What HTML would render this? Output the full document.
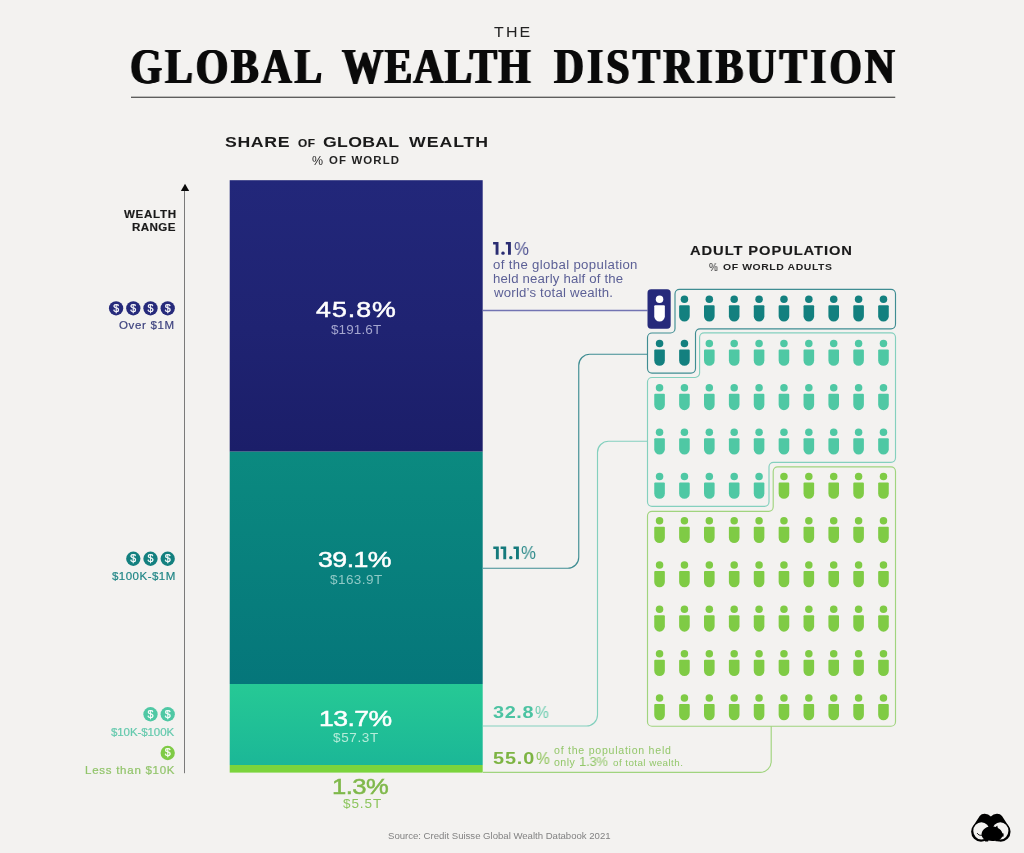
<!DOCTYPE html>
<html><head><meta charset="utf-8"><title>The Global Wealth Distribution</title>
<style>
html,body{margin:0;padding:0;}
body{width:1024px;height:853px;background:#f3f2f0;position:relative;overflow:hidden;font-family:"Liberation Sans",sans-serif;}
.t{position:absolute;white-space:nowrap;line-height:1;transform-origin:0 0;will-change:transform;}
svg{position:absolute;left:0;top:0;will-change:transform;}
</style></head><body>
<svg width="1024" height="853" viewBox="0 0 1024 853">
<defs>
<linearGradient id="gn" x1="0" y1="0" x2="0" y2="1"><stop offset="0" stop-color="#22277a"/><stop offset="0.55" stop-color="#1f2372"/><stop offset="1" stop-color="#1b1e69"/></linearGradient>
<linearGradient id="gt" x1="0" y1="0" x2="0" y2="1"><stop offset="0" stop-color="#0b8a80"/><stop offset="1" stop-color="#05767a"/></linearGradient>
<linearGradient id="gm" x1="0" y1="0" x2="0" y2="1"><stop offset="0" stop-color="#26c995"/><stop offset="1" stop-color="#1bb797"/></linearGradient>
</defs>
<rect x="131" y="96.7" width="764.25" height="1.1" fill="#3a3a3a"/>
<rect x="184" y="188" width="1" height="585.2" fill="#7a7a7a"/>
<path d="M185 183.800l4.200 7.100h-8.300z" fill="#0a0a0a"/>
<rect x="229.7" y="180.2" width="253" height="271.5" fill="url(#gn)"/>
<rect x="229.7" y="451.7" width="253" height="232.3" fill="url(#gt)"/>
<rect x="229.7" y="684" width="253" height="81" fill="url(#gm)"/>
<rect x="229.7" y="765" width="253" height="7.6" fill="#7bd43c"/>
<circle cx="116.1" cy="308.3" r="7.15" fill="#262a7b"/>
<text x="116.1" y="311.70" text-anchor="middle" font-family="Liberation Sans, sans-serif" font-size="10.6" fill="#fff" stroke="#fff" stroke-width="0.25">$</text>
<circle cx="133.3" cy="308.3" r="7.15" fill="#262a7b"/>
<text x="133.3" y="311.70" text-anchor="middle" font-family="Liberation Sans, sans-serif" font-size="10.6" fill="#fff" stroke="#fff" stroke-width="0.25">$</text>
<circle cx="150.5" cy="308.3" r="7.15" fill="#262a7b"/>
<text x="150.5" y="311.70" text-anchor="middle" font-family="Liberation Sans, sans-serif" font-size="10.6" fill="#fff" stroke="#fff" stroke-width="0.25">$</text>
<circle cx="167.7" cy="308.3" r="7.15" fill="#262a7b"/>
<text x="167.7" y="311.70" text-anchor="middle" font-family="Liberation Sans, sans-serif" font-size="10.6" fill="#fff" stroke="#fff" stroke-width="0.25">$</text>
<circle cx="133.3" cy="558.75" r="7.15" fill="#13807f"/>
<text x="133.3" y="562.15" text-anchor="middle" font-family="Liberation Sans, sans-serif" font-size="10.6" fill="#fff" stroke="#fff" stroke-width="0.25">$</text>
<circle cx="150.5" cy="558.75" r="7.15" fill="#13807f"/>
<text x="150.5" y="562.15" text-anchor="middle" font-family="Liberation Sans, sans-serif" font-size="10.6" fill="#fff" stroke="#fff" stroke-width="0.25">$</text>
<circle cx="167.7" cy="558.75" r="7.15" fill="#13807f"/>
<text x="167.7" y="562.15" text-anchor="middle" font-family="Liberation Sans, sans-serif" font-size="10.6" fill="#fff" stroke="#fff" stroke-width="0.25">$</text>
<circle cx="150.5" cy="714.25" r="7.15" fill="#4fc8a4"/>
<text x="150.5" y="717.65" text-anchor="middle" font-family="Liberation Sans, sans-serif" font-size="10.6" fill="#fff" stroke="#fff" stroke-width="0.25">$</text>
<circle cx="167.7" cy="714.25" r="7.15" fill="#4fc8a4"/>
<text x="167.7" y="717.65" text-anchor="middle" font-family="Liberation Sans, sans-serif" font-size="10.6" fill="#fff" stroke="#fff" stroke-width="0.25">$</text>
<circle cx="167.7" cy="753" r="7.15" fill="#7fcb45"/>
<text x="167.7" y="756.40" text-anchor="middle" font-family="Liberation Sans, sans-serif" font-size="10.6" fill="#fff" stroke="#fff" stroke-width="0.25">$</text>
<path d="M483 310.5H647.5" fill="none" stroke="#7274b2" stroke-width="1.3"/>
<path d="M483 568.25H567.75a11 11 0 0 0 11 -11V365.25a11 11 0 0 1 11 -11H647.5" fill="none" stroke="#3f8d92" stroke-width="1.15"/>
<path d="M483 726H586.5a11 11 0 0 0 11 -11V452.25a11 11 0 0 1 11 -11H647.5" fill="none" stroke="#84d0be" stroke-width="1.15"/>
<path d="M483 772.4H760.2a11 11 0 0 0 11 -11V726.25" fill="none" stroke="#a0d47e" stroke-width="1.15"/>
<path d="M675.00 293.90A4.5 4.5 0 0 1 679.50 289.40L891.00 289.40A4.5 4.5 0 0 1 895.50 293.90L895.50 324.30A4.5 4.5 0 0 1 891.00 328.80L700.00 328.80A4.5 4.5 0 0 0 695.50 333.30L695.50 368.60A4.5 4.5 0 0 1 691.00 373.10L652.00 373.10A4.5 4.5 0 0 1 647.50 368.60L647.50 337.50A4.5 4.5 0 0 1 652.00 333.00L670.50 333.00A4.5 4.5 0 0 0 675.00 328.50Z" fill="none" stroke="#3f8d92" stroke-width="1.15"/>
<path d="M699.60 337.30A4.5 4.5 0 0 1 704.10 332.80L891.00 332.80A4.5 4.5 0 0 1 895.50 337.30L895.50 457.80A4.5 4.5 0 0 1 891.00 462.30L773.50 462.30A4.5 4.5 0 0 0 769.00 466.80L769.00 501.80A4.5 4.5 0 0 1 764.50 506.30L652.00 506.30A4.5 4.5 0 0 1 647.50 501.80L647.50 382.00A4.5 4.5 0 0 1 652.00 377.50L695.10 377.50A4.5 4.5 0 0 0 699.60 373.00Z" fill="none" stroke="#84d0be" stroke-width="1.15"/>
<path d="M773.20 471.40A4.5 4.5 0 0 1 777.70 466.90L891.00 466.90A4.5 4.5 0 0 1 895.50 471.40L895.50 721.75A4.5 4.5 0 0 1 891.00 726.25L652.00 726.25A4.5 4.5 0 0 1 647.50 721.75L647.50 515.80A4.5 4.5 0 0 1 652.00 511.30L768.70 511.30A4.5 4.5 0 0 0 773.20 506.80Z" fill="none" stroke="#a0d47e" stroke-width="1.15"/>
<rect x="647.5" y="289.3" width="23.2" height="39.4" rx="3.6" fill="#262a7b"/>
<g fill="#ffffff">
<circle cx="659.55" cy="299.25" r="3.75"/><path d="M655.25 305.25h8.6a1 1 0 0 1 1 1v10a5.3 5.3 0 0 1-10.6 0v-10a1 1 0 0 1 1-1z"/>
</g>
<g fill="#13807f">
<circle cx="684.43" cy="299.25" r="3.75"/><path d="M680.13 305.25h8.6a1 1 0 0 1 1 1v10a5.3 5.3 0 0 1-10.6 0v-10a1 1 0 0 1 1-1z"/>
<circle cx="709.31" cy="299.25" r="3.75"/><path d="M705.01 305.25h8.6a1 1 0 0 1 1 1v10a5.3 5.3 0 0 1-10.6 0v-10a1 1 0 0 1 1-1z"/>
<circle cx="734.19" cy="299.25" r="3.75"/><path d="M729.89 305.25h8.6a1 1 0 0 1 1 1v10a5.3 5.3 0 0 1-10.6 0v-10a1 1 0 0 1 1-1z"/>
<circle cx="759.07" cy="299.25" r="3.75"/><path d="M754.77 305.25h8.6a1 1 0 0 1 1 1v10a5.3 5.3 0 0 1-10.6 0v-10a1 1 0 0 1 1-1z"/>
<circle cx="783.95" cy="299.25" r="3.75"/><path d="M779.65 305.25h8.6a1 1 0 0 1 1 1v10a5.3 5.3 0 0 1-10.6 0v-10a1 1 0 0 1 1-1z"/>
<circle cx="808.83" cy="299.25" r="3.75"/><path d="M804.53 305.25h8.6a1 1 0 0 1 1 1v10a5.3 5.3 0 0 1-10.6 0v-10a1 1 0 0 1 1-1z"/>
<circle cx="833.71" cy="299.25" r="3.75"/><path d="M829.41 305.25h8.6a1 1 0 0 1 1 1v10a5.3 5.3 0 0 1-10.6 0v-10a1 1 0 0 1 1-1z"/>
<circle cx="858.59" cy="299.25" r="3.75"/><path d="M854.29 305.25h8.6a1 1 0 0 1 1 1v10a5.3 5.3 0 0 1-10.6 0v-10a1 1 0 0 1 1-1z"/>
<circle cx="883.47" cy="299.25" r="3.75"/><path d="M879.17 305.25h8.6a1 1 0 0 1 1 1v10a5.3 5.3 0 0 1-10.6 0v-10a1 1 0 0 1 1-1z"/>
<circle cx="659.55" cy="343.55" r="3.75"/><path d="M655.25 349.55h8.6a1 1 0 0 1 1 1v10a5.3 5.3 0 0 1-10.6 0v-10a1 1 0 0 1 1-1z"/>
<circle cx="684.43" cy="343.55" r="3.75"/><path d="M680.13 349.55h8.6a1 1 0 0 1 1 1v10a5.3 5.3 0 0 1-10.6 0v-10a1 1 0 0 1 1-1z"/>
</g>
<g fill="#4fc8a4">
<circle cx="709.31" cy="343.55" r="3.75"/><path d="M705.01 349.55h8.6a1 1 0 0 1 1 1v10a5.3 5.3 0 0 1-10.6 0v-10a1 1 0 0 1 1-1z"/>
<circle cx="734.19" cy="343.55" r="3.75"/><path d="M729.89 349.55h8.6a1 1 0 0 1 1 1v10a5.3 5.3 0 0 1-10.6 0v-10a1 1 0 0 1 1-1z"/>
<circle cx="759.07" cy="343.55" r="3.75"/><path d="M754.77 349.55h8.6a1 1 0 0 1 1 1v10a5.3 5.3 0 0 1-10.6 0v-10a1 1 0 0 1 1-1z"/>
<circle cx="783.95" cy="343.55" r="3.75"/><path d="M779.65 349.55h8.6a1 1 0 0 1 1 1v10a5.3 5.3 0 0 1-10.6 0v-10a1 1 0 0 1 1-1z"/>
<circle cx="808.83" cy="343.55" r="3.75"/><path d="M804.53 349.55h8.6a1 1 0 0 1 1 1v10a5.3 5.3 0 0 1-10.6 0v-10a1 1 0 0 1 1-1z"/>
<circle cx="833.71" cy="343.55" r="3.75"/><path d="M829.41 349.55h8.6a1 1 0 0 1 1 1v10a5.3 5.3 0 0 1-10.6 0v-10a1 1 0 0 1 1-1z"/>
<circle cx="858.59" cy="343.55" r="3.75"/><path d="M854.29 349.55h8.6a1 1 0 0 1 1 1v10a5.3 5.3 0 0 1-10.6 0v-10a1 1 0 0 1 1-1z"/>
<circle cx="883.47" cy="343.55" r="3.75"/><path d="M879.17 349.55h8.6a1 1 0 0 1 1 1v10a5.3 5.3 0 0 1-10.6 0v-10a1 1 0 0 1 1-1z"/>
<circle cx="659.55" cy="387.85" r="3.75"/><path d="M655.25 393.85h8.6a1 1 0 0 1 1 1v10a5.3 5.3 0 0 1-10.6 0v-10a1 1 0 0 1 1-1z"/>
<circle cx="684.43" cy="387.85" r="3.75"/><path d="M680.13 393.85h8.6a1 1 0 0 1 1 1v10a5.3 5.3 0 0 1-10.6 0v-10a1 1 0 0 1 1-1z"/>
<circle cx="709.31" cy="387.85" r="3.75"/><path d="M705.01 393.85h8.6a1 1 0 0 1 1 1v10a5.3 5.3 0 0 1-10.6 0v-10a1 1 0 0 1 1-1z"/>
<circle cx="734.19" cy="387.85" r="3.75"/><path d="M729.89 393.85h8.6a1 1 0 0 1 1 1v10a5.3 5.3 0 0 1-10.6 0v-10a1 1 0 0 1 1-1z"/>
<circle cx="759.07" cy="387.85" r="3.75"/><path d="M754.77 393.85h8.6a1 1 0 0 1 1 1v10a5.3 5.3 0 0 1-10.6 0v-10a1 1 0 0 1 1-1z"/>
<circle cx="783.95" cy="387.85" r="3.75"/><path d="M779.65 393.85h8.6a1 1 0 0 1 1 1v10a5.3 5.3 0 0 1-10.6 0v-10a1 1 0 0 1 1-1z"/>
<circle cx="808.83" cy="387.85" r="3.75"/><path d="M804.53 393.85h8.6a1 1 0 0 1 1 1v10a5.3 5.3 0 0 1-10.6 0v-10a1 1 0 0 1 1-1z"/>
<circle cx="833.71" cy="387.85" r="3.75"/><path d="M829.41 393.85h8.6a1 1 0 0 1 1 1v10a5.3 5.3 0 0 1-10.6 0v-10a1 1 0 0 1 1-1z"/>
<circle cx="858.59" cy="387.85" r="3.75"/><path d="M854.29 393.85h8.6a1 1 0 0 1 1 1v10a5.3 5.3 0 0 1-10.6 0v-10a1 1 0 0 1 1-1z"/>
<circle cx="883.47" cy="387.85" r="3.75"/><path d="M879.17 393.85h8.6a1 1 0 0 1 1 1v10a5.3 5.3 0 0 1-10.6 0v-10a1 1 0 0 1 1-1z"/>
<circle cx="659.55" cy="432.15" r="3.75"/><path d="M655.25 438.15h8.6a1 1 0 0 1 1 1v10a5.3 5.3 0 0 1-10.6 0v-10a1 1 0 0 1 1-1z"/>
<circle cx="684.43" cy="432.15" r="3.75"/><path d="M680.13 438.15h8.6a1 1 0 0 1 1 1v10a5.3 5.3 0 0 1-10.6 0v-10a1 1 0 0 1 1-1z"/>
<circle cx="709.31" cy="432.15" r="3.75"/><path d="M705.01 438.15h8.6a1 1 0 0 1 1 1v10a5.3 5.3 0 0 1-10.6 0v-10a1 1 0 0 1 1-1z"/>
<circle cx="734.19" cy="432.15" r="3.75"/><path d="M729.89 438.15h8.6a1 1 0 0 1 1 1v10a5.3 5.3 0 0 1-10.6 0v-10a1 1 0 0 1 1-1z"/>
<circle cx="759.07" cy="432.15" r="3.75"/><path d="M754.77 438.15h8.6a1 1 0 0 1 1 1v10a5.3 5.3 0 0 1-10.6 0v-10a1 1 0 0 1 1-1z"/>
<circle cx="783.95" cy="432.15" r="3.75"/><path d="M779.65 438.15h8.6a1 1 0 0 1 1 1v10a5.3 5.3 0 0 1-10.6 0v-10a1 1 0 0 1 1-1z"/>
<circle cx="808.83" cy="432.15" r="3.75"/><path d="M804.53 438.15h8.6a1 1 0 0 1 1 1v10a5.3 5.3 0 0 1-10.6 0v-10a1 1 0 0 1 1-1z"/>
<circle cx="833.71" cy="432.15" r="3.75"/><path d="M829.41 438.15h8.6a1 1 0 0 1 1 1v10a5.3 5.3 0 0 1-10.6 0v-10a1 1 0 0 1 1-1z"/>
<circle cx="858.59" cy="432.15" r="3.75"/><path d="M854.29 438.15h8.6a1 1 0 0 1 1 1v10a5.3 5.3 0 0 1-10.6 0v-10a1 1 0 0 1 1-1z"/>
<circle cx="883.47" cy="432.15" r="3.75"/><path d="M879.17 438.15h8.6a1 1 0 0 1 1 1v10a5.3 5.3 0 0 1-10.6 0v-10a1 1 0 0 1 1-1z"/>
<circle cx="659.55" cy="476.45" r="3.75"/><path d="M655.25 482.45h8.6a1 1 0 0 1 1 1v10a5.3 5.3 0 0 1-10.6 0v-10a1 1 0 0 1 1-1z"/>
<circle cx="684.43" cy="476.45" r="3.75"/><path d="M680.13 482.45h8.6a1 1 0 0 1 1 1v10a5.3 5.3 0 0 1-10.6 0v-10a1 1 0 0 1 1-1z"/>
<circle cx="709.31" cy="476.45" r="3.75"/><path d="M705.01 482.45h8.6a1 1 0 0 1 1 1v10a5.3 5.3 0 0 1-10.6 0v-10a1 1 0 0 1 1-1z"/>
<circle cx="734.19" cy="476.45" r="3.75"/><path d="M729.89 482.45h8.6a1 1 0 0 1 1 1v10a5.3 5.3 0 0 1-10.6 0v-10a1 1 0 0 1 1-1z"/>
<circle cx="759.07" cy="476.45" r="3.75"/><path d="M754.77 482.45h8.6a1 1 0 0 1 1 1v10a5.3 5.3 0 0 1-10.6 0v-10a1 1 0 0 1 1-1z"/>
</g>
<g fill="#7fcb45">
<circle cx="783.95" cy="476.45" r="3.75"/><path d="M779.65 482.45h8.6a1 1 0 0 1 1 1v10a5.3 5.3 0 0 1-10.6 0v-10a1 1 0 0 1 1-1z"/>
<circle cx="808.83" cy="476.45" r="3.75"/><path d="M804.53 482.45h8.6a1 1 0 0 1 1 1v10a5.3 5.3 0 0 1-10.6 0v-10a1 1 0 0 1 1-1z"/>
<circle cx="833.71" cy="476.45" r="3.75"/><path d="M829.41 482.45h8.6a1 1 0 0 1 1 1v10a5.3 5.3 0 0 1-10.6 0v-10a1 1 0 0 1 1-1z"/>
<circle cx="858.59" cy="476.45" r="3.75"/><path d="M854.29 482.45h8.6a1 1 0 0 1 1 1v10a5.3 5.3 0 0 1-10.6 0v-10a1 1 0 0 1 1-1z"/>
<circle cx="883.47" cy="476.45" r="3.75"/><path d="M879.17 482.45h8.6a1 1 0 0 1 1 1v10a5.3 5.3 0 0 1-10.6 0v-10a1 1 0 0 1 1-1z"/>
<circle cx="659.55" cy="520.75" r="3.75"/><path d="M655.25 526.75h8.6a1 1 0 0 1 1 1v10a5.3 5.3 0 0 1-10.6 0v-10a1 1 0 0 1 1-1z"/>
<circle cx="684.43" cy="520.75" r="3.75"/><path d="M680.13 526.75h8.6a1 1 0 0 1 1 1v10a5.3 5.3 0 0 1-10.6 0v-10a1 1 0 0 1 1-1z"/>
<circle cx="709.31" cy="520.75" r="3.75"/><path d="M705.01 526.75h8.6a1 1 0 0 1 1 1v10a5.3 5.3 0 0 1-10.6 0v-10a1 1 0 0 1 1-1z"/>
<circle cx="734.19" cy="520.75" r="3.75"/><path d="M729.89 526.75h8.6a1 1 0 0 1 1 1v10a5.3 5.3 0 0 1-10.6 0v-10a1 1 0 0 1 1-1z"/>
<circle cx="759.07" cy="520.75" r="3.75"/><path d="M754.77 526.75h8.6a1 1 0 0 1 1 1v10a5.3 5.3 0 0 1-10.6 0v-10a1 1 0 0 1 1-1z"/>
<circle cx="783.95" cy="520.75" r="3.75"/><path d="M779.65 526.75h8.6a1 1 0 0 1 1 1v10a5.3 5.3 0 0 1-10.6 0v-10a1 1 0 0 1 1-1z"/>
<circle cx="808.83" cy="520.75" r="3.75"/><path d="M804.53 526.75h8.6a1 1 0 0 1 1 1v10a5.3 5.3 0 0 1-10.6 0v-10a1 1 0 0 1 1-1z"/>
<circle cx="833.71" cy="520.75" r="3.75"/><path d="M829.41 526.75h8.6a1 1 0 0 1 1 1v10a5.3 5.3 0 0 1-10.6 0v-10a1 1 0 0 1 1-1z"/>
<circle cx="858.59" cy="520.75" r="3.75"/><path d="M854.29 526.75h8.6a1 1 0 0 1 1 1v10a5.3 5.3 0 0 1-10.6 0v-10a1 1 0 0 1 1-1z"/>
<circle cx="883.47" cy="520.75" r="3.75"/><path d="M879.17 526.75h8.6a1 1 0 0 1 1 1v10a5.3 5.3 0 0 1-10.6 0v-10a1 1 0 0 1 1-1z"/>
<circle cx="659.55" cy="565.05" r="3.75"/><path d="M655.25 571.05h8.6a1 1 0 0 1 1 1v10a5.3 5.3 0 0 1-10.6 0v-10a1 1 0 0 1 1-1z"/>
<circle cx="684.43" cy="565.05" r="3.75"/><path d="M680.13 571.05h8.6a1 1 0 0 1 1 1v10a5.3 5.3 0 0 1-10.6 0v-10a1 1 0 0 1 1-1z"/>
<circle cx="709.31" cy="565.05" r="3.75"/><path d="M705.01 571.05h8.6a1 1 0 0 1 1 1v10a5.3 5.3 0 0 1-10.6 0v-10a1 1 0 0 1 1-1z"/>
<circle cx="734.19" cy="565.05" r="3.75"/><path d="M729.89 571.05h8.6a1 1 0 0 1 1 1v10a5.3 5.3 0 0 1-10.6 0v-10a1 1 0 0 1 1-1z"/>
<circle cx="759.07" cy="565.05" r="3.75"/><path d="M754.77 571.05h8.6a1 1 0 0 1 1 1v10a5.3 5.3 0 0 1-10.6 0v-10a1 1 0 0 1 1-1z"/>
<circle cx="783.95" cy="565.05" r="3.75"/><path d="M779.65 571.05h8.6a1 1 0 0 1 1 1v10a5.3 5.3 0 0 1-10.6 0v-10a1 1 0 0 1 1-1z"/>
<circle cx="808.83" cy="565.05" r="3.75"/><path d="M804.53 571.05h8.6a1 1 0 0 1 1 1v10a5.3 5.3 0 0 1-10.6 0v-10a1 1 0 0 1 1-1z"/>
<circle cx="833.71" cy="565.05" r="3.75"/><path d="M829.41 571.05h8.6a1 1 0 0 1 1 1v10a5.3 5.3 0 0 1-10.6 0v-10a1 1 0 0 1 1-1z"/>
<circle cx="858.59" cy="565.05" r="3.75"/><path d="M854.29 571.05h8.6a1 1 0 0 1 1 1v10a5.3 5.3 0 0 1-10.6 0v-10a1 1 0 0 1 1-1z"/>
<circle cx="883.47" cy="565.05" r="3.75"/><path d="M879.17 571.05h8.6a1 1 0 0 1 1 1v10a5.3 5.3 0 0 1-10.6 0v-10a1 1 0 0 1 1-1z"/>
<circle cx="659.55" cy="609.35" r="3.75"/><path d="M655.25 615.35h8.6a1 1 0 0 1 1 1v10a5.3 5.3 0 0 1-10.6 0v-10a1 1 0 0 1 1-1z"/>
<circle cx="684.43" cy="609.35" r="3.75"/><path d="M680.13 615.35h8.6a1 1 0 0 1 1 1v10a5.3 5.3 0 0 1-10.6 0v-10a1 1 0 0 1 1-1z"/>
<circle cx="709.31" cy="609.35" r="3.75"/><path d="M705.01 615.35h8.6a1 1 0 0 1 1 1v10a5.3 5.3 0 0 1-10.6 0v-10a1 1 0 0 1 1-1z"/>
<circle cx="734.19" cy="609.35" r="3.75"/><path d="M729.89 615.35h8.6a1 1 0 0 1 1 1v10a5.3 5.3 0 0 1-10.6 0v-10a1 1 0 0 1 1-1z"/>
<circle cx="759.07" cy="609.35" r="3.75"/><path d="M754.77 615.35h8.6a1 1 0 0 1 1 1v10a5.3 5.3 0 0 1-10.6 0v-10a1 1 0 0 1 1-1z"/>
<circle cx="783.95" cy="609.35" r="3.75"/><path d="M779.65 615.35h8.6a1 1 0 0 1 1 1v10a5.3 5.3 0 0 1-10.6 0v-10a1 1 0 0 1 1-1z"/>
<circle cx="808.83" cy="609.35" r="3.75"/><path d="M804.53 615.35h8.6a1 1 0 0 1 1 1v10a5.3 5.3 0 0 1-10.6 0v-10a1 1 0 0 1 1-1z"/>
<circle cx="833.71" cy="609.35" r="3.75"/><path d="M829.41 615.35h8.6a1 1 0 0 1 1 1v10a5.3 5.3 0 0 1-10.6 0v-10a1 1 0 0 1 1-1z"/>
<circle cx="858.59" cy="609.35" r="3.75"/><path d="M854.29 615.35h8.6a1 1 0 0 1 1 1v10a5.3 5.3 0 0 1-10.6 0v-10a1 1 0 0 1 1-1z"/>
<circle cx="883.47" cy="609.35" r="3.75"/><path d="M879.17 615.35h8.6a1 1 0 0 1 1 1v10a5.3 5.3 0 0 1-10.6 0v-10a1 1 0 0 1 1-1z"/>
<circle cx="659.55" cy="653.65" r="3.75"/><path d="M655.25 659.65h8.6a1 1 0 0 1 1 1v10a5.3 5.3 0 0 1-10.6 0v-10a1 1 0 0 1 1-1z"/>
<circle cx="684.43" cy="653.65" r="3.75"/><path d="M680.13 659.65h8.6a1 1 0 0 1 1 1v10a5.3 5.3 0 0 1-10.6 0v-10a1 1 0 0 1 1-1z"/>
<circle cx="709.31" cy="653.65" r="3.75"/><path d="M705.01 659.65h8.6a1 1 0 0 1 1 1v10a5.3 5.3 0 0 1-10.6 0v-10a1 1 0 0 1 1-1z"/>
<circle cx="734.19" cy="653.65" r="3.75"/><path d="M729.89 659.65h8.6a1 1 0 0 1 1 1v10a5.3 5.3 0 0 1-10.6 0v-10a1 1 0 0 1 1-1z"/>
<circle cx="759.07" cy="653.65" r="3.75"/><path d="M754.77 659.65h8.6a1 1 0 0 1 1 1v10a5.3 5.3 0 0 1-10.6 0v-10a1 1 0 0 1 1-1z"/>
<circle cx="783.95" cy="653.65" r="3.75"/><path d="M779.65 659.65h8.6a1 1 0 0 1 1 1v10a5.3 5.3 0 0 1-10.6 0v-10a1 1 0 0 1 1-1z"/>
<circle cx="808.83" cy="653.65" r="3.75"/><path d="M804.53 659.65h8.6a1 1 0 0 1 1 1v10a5.3 5.3 0 0 1-10.6 0v-10a1 1 0 0 1 1-1z"/>
<circle cx="833.71" cy="653.65" r="3.75"/><path d="M829.41 659.65h8.6a1 1 0 0 1 1 1v10a5.3 5.3 0 0 1-10.6 0v-10a1 1 0 0 1 1-1z"/>
<circle cx="858.59" cy="653.65" r="3.75"/><path d="M854.29 659.65h8.6a1 1 0 0 1 1 1v10a5.3 5.3 0 0 1-10.6 0v-10a1 1 0 0 1 1-1z"/>
<circle cx="883.47" cy="653.65" r="3.75"/><path d="M879.17 659.65h8.6a1 1 0 0 1 1 1v10a5.3 5.3 0 0 1-10.6 0v-10a1 1 0 0 1 1-1z"/>
<circle cx="659.55" cy="697.95" r="3.75"/><path d="M655.25 703.95h8.6a1 1 0 0 1 1 1v10a5.3 5.3 0 0 1-10.6 0v-10a1 1 0 0 1 1-1z"/>
<circle cx="684.43" cy="697.95" r="3.75"/><path d="M680.13 703.95h8.6a1 1 0 0 1 1 1v10a5.3 5.3 0 0 1-10.6 0v-10a1 1 0 0 1 1-1z"/>
<circle cx="709.31" cy="697.95" r="3.75"/><path d="M705.01 703.95h8.6a1 1 0 0 1 1 1v10a5.3 5.3 0 0 1-10.6 0v-10a1 1 0 0 1 1-1z"/>
<circle cx="734.19" cy="697.95" r="3.75"/><path d="M729.89 703.95h8.6a1 1 0 0 1 1 1v10a5.3 5.3 0 0 1-10.6 0v-10a1 1 0 0 1 1-1z"/>
<circle cx="759.07" cy="697.95" r="3.75"/><path d="M754.77 703.95h8.6a1 1 0 0 1 1 1v10a5.3 5.3 0 0 1-10.6 0v-10a1 1 0 0 1 1-1z"/>
<circle cx="783.95" cy="697.95" r="3.75"/><path d="M779.65 703.95h8.6a1 1 0 0 1 1 1v10a5.3 5.3 0 0 1-10.6 0v-10a1 1 0 0 1 1-1z"/>
<circle cx="808.83" cy="697.95" r="3.75"/><path d="M804.53 703.95h8.6a1 1 0 0 1 1 1v10a5.3 5.3 0 0 1-10.6 0v-10a1 1 0 0 1 1-1z"/>
<circle cx="833.71" cy="697.95" r="3.75"/><path d="M829.41 703.95h8.6a1 1 0 0 1 1 1v10a5.3 5.3 0 0 1-10.6 0v-10a1 1 0 0 1 1-1z"/>
<circle cx="858.59" cy="697.95" r="3.75"/><path d="M854.29 703.95h8.6a1 1 0 0 1 1 1v10a5.3 5.3 0 0 1-10.6 0v-10a1 1 0 0 1 1-1z"/>
<circle cx="883.47" cy="697.95" r="3.75"/><path d="M879.17 703.95h8.6a1 1 0 0 1 1 1v10a5.3 5.3 0 0 1-10.6 0v-10a1 1 0 0 1 1-1z"/>
</g>
<path d="M493.1 241.9H498.5V254.8H495.6V244.4H493.1Z" fill="#2a2d72"/>
<path d="M505.8 241.9H510.9V254.8H508.0V244.4H505.8Z" fill="#2a2d72"/>
<rect x="501.3" y="251.40000000000003" width="3.3999999999999773" height="3.3999999999999773" rx="1.53" fill="#2a2d72"/>
<path d="M493.3 546.4H498.8V559.3H495.90000000000003V548.9H493.3Z" fill="#157a7c"/>
<path d="M500.6 546.4H506.2V559.3H503.3V548.9H500.6Z" fill="#157a7c"/>
<path d="M513.5 546.4H518.9V559.3H516.0V548.9H513.5Z" fill="#157a7c"/>
<rect x="509.1" y="555.9" width="3.3999999999999773" height="3.3999999999999773" rx="1.53" fill="#157a7c"/>
<g transform="translate(940,790)">
<path d="M32.6 37L39.7 25.9Q41.5 23.6 44.8 23.7Q48.4 23.8 50.85 26.5Q53.3 23.8 56.9 23.7Q60.2 23.6 62 25.9L69.1 37L60.7 42H41Z" fill="#000"/>
<circle cx="41" cy="41.8" r="9.85" fill="#000"/><circle cx="60.7" cy="41.8" r="9.85" fill="#000"/>
<ellipse cx="41.4" cy="40.8" rx="8.1" ry="8.6" fill="#f3f2f0"/><ellipse cx="60.3" cy="40.8" rx="8.1" ry="8.6" fill="#f3f2f0"/>
<path d="M41.6 44.8C41.4 40.4 45 36.7 50.4 36.4C52.5 36.3 54.3 36.5 55.700 36.900L57.200 35.500L57.900 37.900C60.300 39.100 61.900 41.200 62.400 43.300L63.600 43.600V46.400L62.200 46.800C61.500 48.300 60.300 49.500 58.900 50.200L58.700 51.300H55.700L55.400 50.700C53.400 51.100 50.600 51.100 48.400 50.600L48.100 51.400H45.100L44.800 49.800C42.900 48.600 41.700 46.900 41.600 44.800Z" fill="#000"/>
<path d="M37.300 43.400C38.200 45 39.900 45.700 42.300 45.200" fill="none" stroke="#000" stroke-width="0.9" stroke-linecap="round"/>
</g>
</svg>
<div class="t" style='left:494.05px;top:25.13px;font-size:14.5px;color:#222;letter-spacing:1.963px;transform:scaleX(1.1000);'>THE</div>
<div class="t" style='left:130.06px;top:40.71px;font-size:50.5px;color:#0a0a0a;letter-spacing:3.657px;font-weight:bold;font-family:"Liberation Serif", serif;transform:scaleX(0.8200);text-shadow:1.1px 0 0 #0a0a0a,-1.1px 0 0 #0a0a0a;'>GLOBAL</div>
<div class="t" style='left:342.25px;top:40.71px;font-size:50.5px;color:#0a0a0a;letter-spacing:1.444px;font-weight:bold;font-family:"Liberation Serif", serif;transform:scaleX(0.8200);text-shadow:1.1px 0 0 #0a0a0a,-1.1px 0 0 #0a0a0a;'>WEALTH</div>
<div class="t" style='left:553.60px;top:40.71px;font-size:50.5px;color:#0a0a0a;letter-spacing:3.850px;font-weight:bold;font-family:"Liberation Serif", serif;transform:scaleX(0.8200);text-shadow:1.1px 0 0 #0a0a0a,-1.1px 0 0 #0a0a0a;'>DISTRIBUTION</div>
<div class="t" style='left:225.22px;top:134.26px;font-size:15.4px;color:#1a1a1a;letter-spacing:0.554px;font-weight:bold;transform:scaleX(1.1500);'>SHARE</div>
<div class="t" style='left:297.63px;top:138.58px;font-size:10.3px;color:#1a1a1a;letter-spacing:0.529px;font-weight:bold;transform:scaleX(1.1500);-webkit-text-stroke:0.15px #1a1a1a;'>OF</div>
<div class="t" style='left:322.65px;top:134.26px;font-size:15.4px;color:#1a1a1a;letter-spacing:0.242px;font-weight:bold;transform:scaleX(1.1500);'>GLOBAL</div>
<div class="t" style='left:408.70px;top:134.26px;font-size:15.4px;color:#1a1a1a;letter-spacing:0.824px;font-weight:bold;transform:scaleX(1.1500);'>WEALTH</div>
<div class="t" style='left:312.41px;top:154.59px;font-size:12px;color:#2a2a2a;letter-spacing:0.000px;transform:scaleX(1.0365);'>%</div>
<div class="t" style='left:328.54px;top:156.02px;font-size:10.2px;color:#222;letter-spacing:1.016px;font-weight:bold;transform:scaleX(1.1200);'>OF WORLD</div>
<div class="t" style='left:123.90px;top:210.34px;font-size:10px;color:#1a1a1a;letter-spacing:0.563px;font-weight:bold;transform:scaleX(1.1600);-webkit-text-stroke:0.15px #1a1a1a;'>WEALTH</div>
<div class="t" style='left:132.18px;top:223.34px;font-size:10px;color:#1a1a1a;letter-spacing:0.332px;font-weight:bold;transform:scaleX(1.1600);-webkit-text-stroke:0.15px #1a1a1a;'>RANGE</div>
<div class="t" style='left:690.37px;top:244.66px;font-size:12.8px;color:#1a1a1a;letter-spacing:0.795px;font-weight:bold;transform:scaleX(1.1500);-webkit-text-stroke:0.15px #1a1a1a;'>ADULT POPULATION</div>
<div class="t" style='left:709.49px;top:262.33px;font-size:10.6px;color:#2a2a2a;letter-spacing:0.000px;transform:scaleX(0.9341);'>%</div>
<div class="t" style='left:723.17px;top:263.43px;font-size:9.3px;color:#222;letter-spacing:0.532px;font-weight:bold;transform:scaleX(1.1200);'>OF WORLD ADULTS</div>
<div class="t" style='left:315.83px;top:298.28px;font-size:22.7px;color:#ffffff;letter-spacing:0.851px;transform:scaleX(1.1800);-webkit-text-stroke:0.5px #ffffff;'>45.8%</div>
<div class="t" style='left:331.00px;top:323.07px;font-size:13.5px;color:#a4a6cf;letter-spacing:0.116px;'>$191.6T</div>
<div class="t" style='left:318.16px;top:548.28px;font-size:22.7px;color:#ffffff;letter-spacing:-0.454px;transform:scaleX(1.1772);-webkit-text-stroke:0.5px #ffffff;'>39.1%</div>
<div class="t" style='left:329.50px;top:573.07px;font-size:13.5px;color:#8fc9c6;letter-spacing:0.449px;'>$163.9T</div>
<div class="t" style='left:318.84px;top:707.03px;font-size:22.7px;color:#ffffff;letter-spacing:-0.454px;transform:scaleX(1.1703);-webkit-text-stroke:0.5px #ffffff;'>13.7%</div>
<div class="t" style='left:333.00px;top:730.57px;font-size:13.5px;color:#b5ecd9;letter-spacing:0.640px;'>$57.3T</div>
<div class="t" style='left:332.15px;top:774.53px;font-size:22.7px;color:#7fb84a;letter-spacing:-0.454px;transform:scaleX(1.1288);-webkit-text-stroke:0.5px #7fb84a;'>1.3%</div>
<div class="t" style='left:342.50px;top:796.57px;font-size:13.5px;color:#8cc55c;letter-spacing:0.927px;'>$5.5T</div>
<div class="t" style='left:119.46px;top:320.47px;font-size:11.5px;color:#3d427f;letter-spacing:0.661px;-webkit-text-stroke:0.2px #3d427f;'>Over $1M</div>
<div class="t" style='left:111.75px;top:571.27px;font-size:11.5px;color:#1f8585;letter-spacing:0.478px;-webkit-text-stroke:0.2px #1f8585;'>$100K-$1M</div>
<div class="t" style='left:111.25px;top:726.52px;font-size:11.5px;color:#64c9ad;letter-spacing:-0.091px;-webkit-text-stroke:0.2px #64c9ad;'>$10K-$100K</div>
<div class="t" style='left:84.85px;top:764.52px;font-size:11.5px;color:#91c46a;letter-spacing:0.738px;-webkit-text-stroke:0.2px #91c46a;'>Less than $10K</div>
<div class="t" style='left:513.58px;top:239.56px;font-size:18px;color:#4f5392;letter-spacing:0.000px;transform:scaleX(0.9325);'>%</div>
<div class="t" style='left:493.09px;top:259.34px;font-size:12px;color:#5c6096;letter-spacing:0.314px;transform:scaleX(1.1000);'>of the global population</div>
<div class="t" style='left:492.68px;top:273.34px;font-size:12px;color:#5c6096;letter-spacing:0.163px;transform:scaleX(1.1000);'>held nearly half of the</div>
<div class="t" style='left:493.71px;top:287.34px;font-size:12px;color:#5c6096;letter-spacing:0.184px;transform:scaleX(1.1000);'>world’s total wealth.</div>
<div class="t" style='left:520.88px;top:544.06px;font-size:18px;color:#2c8a8a;letter-spacing:0.000px;transform:scaleX(0.9325);'>%</div>
<div class="t" style='left:493.19px;top:703.70px;font-size:16.3px;color:#4cc3a2;letter-spacing:0.520px;font-weight:bold;transform:scaleX(1.2200);'>32.8</div>
<div class="t" style='left:535.31px;top:703.70px;font-size:16.3px;color:#6bcdb0;letter-spacing:0.000px;transform:scaleX(0.9557);'>%</div>
<div class="t" style='left:493.19px;top:750.10px;font-size:16.3px;color:#7db443;letter-spacing:0.714px;font-weight:bold;transform:scaleX(1.2200);'>55.0</div>
<div class="t" style='left:536.01px;top:750.10px;font-size:16.3px;color:#8fc45a;letter-spacing:0.000px;transform:scaleX(0.9557);'>%</div>
<div class="t" style='left:553.97px;top:744.63px;font-size:10.6px;color:#93c76a;letter-spacing:0.741px;'>of the population held</div>
<div class="t" style='left:553.97px;top:756.93px;font-size:10.6px;color:#93c76a;letter-spacing:0.429px;'>only</div>
<div class="t" style='left:579.38px;top:754.56px;font-size:13.4px;color:#93c76a;letter-spacing:-0.268px;transform:scaleX(0.9754);'>1.3%</div>
<div class="t" style='left:612.89px;top:757.60px;font-size:9.8px;color:#93c76a;letter-spacing:0.447px;'>of total wealth.</div>
<div class="t" style='left:388.45px;top:831.12px;font-size:9.6px;color:#828282;letter-spacing:-0.015px;'>Source: Credit Suisse Global Wealth Databook 2021</div>
</body></html>
